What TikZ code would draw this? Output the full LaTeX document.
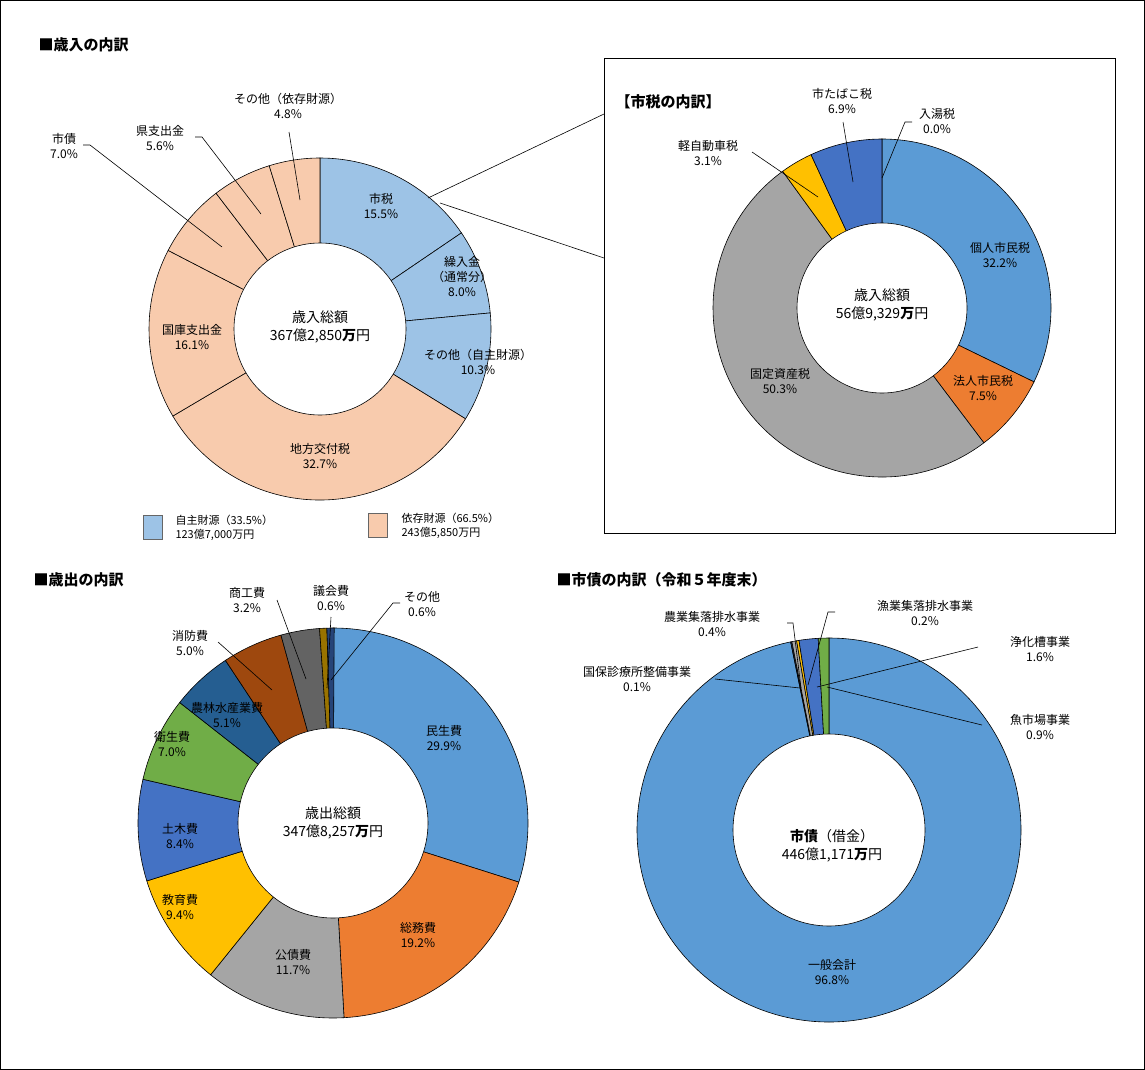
\documentclass[tikz,border=0pt]{standalone}
\usepackage{fontspec}
\setmainfont{Noto Sans CJK JP}
\definecolor{jb}{HTML}{9DC3E6}
\definecolor{ip}{HTML}{F8CBAD}
\definecolor{c1}{HTML}{5B9BD5}
\definecolor{c2}{HTML}{ED7D31}
\definecolor{c3}{HTML}{A5A5A5}
\definecolor{c4}{HTML}{FFC000}
\definecolor{c5}{HTML}{4472C4}
\definecolor{c6}{HTML}{70AD47}
\definecolor{c7}{HTML}{255E91}
\definecolor{c8}{HTML}{9E480E}
\definecolor{c9}{HTML}{636363}
\definecolor{c10}{HTML}{997300}
\definecolor{c11}{HTML}{264478}
\newcommand\mydonut[5]{%
  \gdef\cum{90}%
  \foreach \p/\c in {#5} {%
    \pgfmathsetmacro\endA{\cum-3.6*\p}%
    \filldraw[fill=\c, draw=black, line width=0.6pt] (#1,#2) -- ++(\cum:#3) arc[start angle=\cum, end angle=\endA, radius=#3pt] -- cycle;
    \xdef\cum{\endA}%
  }%
  \filldraw[fill=white,draw=black,line width=0.6pt] (#1,#2) circle[radius=#4pt];
}
\begin{document}
\begin{tikzpicture}[x=1pt,y=1pt,
  lbl/.style={font=\fontsize{12}{15}\selectfont, align=center, inner sep=1pt},
  ctr/.style={font=\fontsize{14}{18}\selectfont, align=center},
  ttl/.style={font=\fontsize{15}{18}\selectfont\bfseries, anchor=west},
  lead/.style={draw=black, line width=0.6pt},
  leg/.style={font=\fontsize{11}{14}\selectfont, align=left, anchor=west}]
\useasboundingbox (0,0) rectangle (1145,-1070);
\draw[line width=0.8pt] (0.5,-0.5) rectangle (1144.5,-1069.5);

% ---------- chart 1
\node[ttl] (t1) at (35,-45) {■歳入の内訳};
\mydonut{320}{-329}{171}{86}{15.5/jb,8.0/jb,10.3/jb,32.7/ip,16.1/ip,7.0/ip,5.6/ip,4.8/ip}
\node[ctr] (m1) at (320,-327) {歳入総額\\367億2,850\textbf{万}円};
\node[lbl] (a1) at (381,-206) {市税\\15.5\%};
\node[lbl] (a2) at (462,-277) {繰入金\\（通常分）\\8.0\%};
\node[lbl] (a3) at (478,-362) {その他（自主財源）\\10.3\%};
\node[lbl] (a4) at (320,-456) {地方交付税\\32.7\%};
\node[lbl] (a5) at (192,-337) {国庫支出金\\16.1\%};
\node[lbl] (a6) at (64,-146) {市債\\7.0\%};
\node[lbl] (a7) at (160,-138) {県支出金\\5.6\%};
\node[lbl] (a8) at (288,-106) {その他（依存財源）\\4.8\%};
\coordinate (p6) at (222,-247); \coordinate (p7) at (261,-214); \coordinate (p8) at (300,-200);
\draw[lead] (83,-145) -- (90,-145) -- (p6);
\draw[lead] (195,-137) -- (202,-137) -- (p7);
\draw[lead] (289,-132) -- (p8);
% legend
\node[draw=black!60, fill=jb, minimum width=19pt, minimum height=24pt, inner sep=0pt] (k1) at (153,-527) {};
\node[leg] (k1t) at (172,-528) {自主財源（33.5\%）\\123億7,000万円};
\node[draw=black!60, fill=ip, minimum width=19pt, minimum height=24pt, inner sep=0pt] (k2) at (378,-525) {};
\node[leg] (k2t) at (398,-526) {依存財源（66.5\%）\\243億5,850万円};

% ---------- chart 2
\node[draw=black, line width=0.8pt, minimum width=511pt, minimum height=475pt, anchor=north west, inner sep=0pt] (box) at (604,-58) {};
\coordinate (s1) at (428,-198); \coordinate (s2) at (440,-203);
\draw[lead] (s1) -- (box.north west |- 0,-114);
\draw[lead] (s2) -- (box.north west |- 0,-258);
\node[ttl] (t2) at (612,-102) {【市税の内訳】};
\mydonut{882}{-308}{169}{85}{0.001/c1,32.2/c1,7.5/c2,50.3/c3,3.1/c4,6.9/c5}
\node[ctr] (m2) at (882,-305) {歳入総額\\56億9,329\textbf{万}円};
\node[lbl] (b1) at (1000,-255) {個人市民税\\32.2\%};
\node[lbl] (b2) at (983,-388) {法人市民税\\7.5\%};
\node[lbl] (b3) at (780,-381) {固定資産税\\50.3\%};
\node[lbl] (b4) at (708,-153) {軽自動車税\\3.1\%};
\node[lbl] (b5) at (842,-101) {市たばこ税\\6.9\%};
\node[lbl] (b6) at (937,-121) {入湯税\\0.0\%};
\draw[lead] (752,-152) -- (818,-197);
\draw[lead] (843,-122) -- (853,-182);
\draw[lead] (912,-122) -- (905,-122) -- (882,-178);

% ---------- chart 3
\node[ttl] (t3) at (30,-580) {■歳出の内訳};
\mydonut{333}{-823}{195}{95}{29.9/c1,19.2/c2,11.7/c3,9.4/c4,8.4/c5,7.0/c6,5.1/c7,5.0/c8,3.2/c9,0.6/c10,0.6/c11}
\node[ctr] (m3) at (333,-823) {歳出総額\\347億8,257\textbf{万}円};
\node[lbl] (d1) at (444,-738) {民生費\\29.9\%};
\node[lbl] (d2) at (418,-935) {総務費\\19.2\%};
\node[lbl] (d3) at (293,-962) {公債費\\11.7\%};
\node[lbl] (d4) at (180,-907) {教育費\\9.4\%};
\node[lbl] (d5) at (180,-836) {土木費\\8.4\%};
\node[lbl] (d6) at (172,-744) {衛生費\\7.0\%};
\node[lbl] (d7) at (227,-715) {農林水産業費\\5.1\%};
\node[lbl] (d8) at (190,-643) {消防費\\5.0\%};
\node[lbl] (d9) at (247,-600) {商工費\\3.2\%};
\node[lbl] (d10) at (331,-598) {議会費\\0.6\%};
\node[lbl] (d11) at (422,-604) {その他\\0.6\%};
\draw[lead] (218,-642) -- (272,-690);
\draw[lead] (277,-600) -- (306,-679);
\draw[lead] (331,-617) -- (327,-688);
\draw[lead] (400,-603) -- (393,-603) -- (331,-680);

% ---------- chart 4
\node[ttl] (t4) at (553,-580) {■市債の内訳（令和５年度末）};
\mydonut{829}{-830}{192}{96}{96.8/c1,0.1/c11,0.4/c3,0.2/c4,1.6/c5,0.9/c6}
\node[ctr] (m4) at (832,-846) {\textbf{市債}（借金）\\446億1,171\textbf{万}円};
\node[lbl] (e1) at (832,-972) {一般会計\\96.8\%};
\node[lbl] (e2) at (712,-624) {農業集落排水事業\\0.4\%};
\node[lbl] (e3) at (925,-613) {漁業集落排水事業\\0.2\%};
\node[lbl] (e4) at (1040,-649) {浄化槽事業\\1.6\%};
\node[lbl] (e5) at (637,-679) {国保診療所整備事業\\0.1\%};
\node[lbl] (e6) at (1040,-727) {魚市場事業\\0.9\%};
\draw[lead] (787,-623) -- (793,-623) -- (801,-688);
\draw[lead] (835,-612) -- (828,-612) -- (808,-685);
\draw[lead] (978,-647) -- (817,-687);
\draw[lead] (715,-679) -- (800,-688);
\draw[lead] (982,-725) -- (827,-687);
\end{tikzpicture}
\end{document}
